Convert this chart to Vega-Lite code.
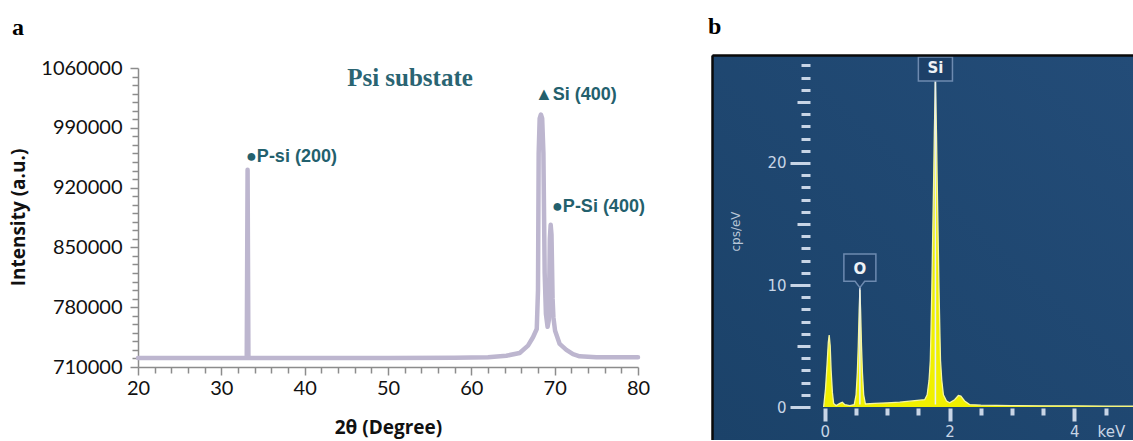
{
  "$schema": "https://vega.github.io/schema/vega-lite/v6.json",
  "background": "white",
  "padding": {"left": 9, "top": 15, "right": 0, "bottom": 0},
  "autosize": {"type": "pad"},
  "bounds": "flush",
  "align": "none",
  "spacing": 74,
  "config": {"view": {"stroke": null}, "axis": {"grid": false}},
  "datasets": {
    "xrd": [
      {"two_theta": 20, "intensity": 720500},
      {"two_theta": 30, "intensity": 720500},
      {"two_theta": 33.05, "intensity": 720500},
      {"two_theta": 33.15, "intensity": 941000},
      {"two_theta": 33.25, "intensity": 720500},
      {"two_theta": 40, "intensity": 720500},
      {"two_theta": 50, "intensity": 720500},
      {"two_theta": 58, "intensity": 720800},
      {"two_theta": 62, "intensity": 721500},
      {"two_theta": 64.2, "intensity": 723200},
      {"two_theta": 65.8, "intensity": 726400},
      {"two_theta": 66.8, "intensity": 735000},
      {"two_theta": 67.4, "intensity": 744800},
      {"two_theta": 67.85, "intensity": 754500},
      {"two_theta": 68.0, "intensity": 800000},
      {"two_theta": 68.08, "intensity": 960000},
      {"two_theta": 68.2, "intensity": 1001000},
      {"two_theta": 68.35, "intensity": 1005500},
      {"two_theta": 68.5, "intensity": 1001000},
      {"two_theta": 68.65, "intensity": 960000},
      {"two_theta": 68.8, "intensity": 820000},
      {"two_theta": 68.95, "intensity": 772000},
      {"two_theta": 69.15, "intensity": 757000},
      {"two_theta": 69.3, "intensity": 765000},
      {"two_theta": 69.42, "intensity": 860000},
      {"two_theta": 69.52, "intensity": 876500},
      {"two_theta": 69.62, "intensity": 865000},
      {"two_theta": 69.75, "intensity": 790000},
      {"two_theta": 69.85, "intensity": 768000},
      {"two_theta": 70.05, "intensity": 752500},
      {"two_theta": 70.6, "intensity": 737000},
      {"two_theta": 71.4, "intensity": 730000},
      {"two_theta": 72.2, "intensity": 725000},
      {"two_theta": 73, "intensity": 722500},
      {"two_theta": 75, "intensity": 721300},
      {"two_theta": 80, "intensity": 721300}
    ],
    "xrd_labels": [
      {"two_theta": 32.96, "intensity": 955800, "label": "●P-si (200)"},
      {"two_theta": 67.64, "intensity": 1028000, "label": "▲Si (400)"},
      {"two_theta": 69.68, "intensity": 896900, "label": "●P-Si (400)"}
    ],
    "xrd_title": [
      {"two_theta": 52.64, "intensity": 1038900, "label": "Psi substate"}
    ],
    "spectrum": [
      {"keV": -0.02, "cps": 0},
      {"keV": 0.01, "cps": 1.5},
      {"keV": 0.035, "cps": 3.5},
      {"keV": 0.055, "cps": 5.3},
      {"keV": 0.069, "cps": 5.9},
      {"keV": 0.085, "cps": 5.0},
      {"keV": 0.1, "cps": 3.0},
      {"keV": 0.12, "cps": 1.2},
      {"keV": 0.14, "cps": 0.3},
      {"keV": 0.18, "cps": 0.12},
      {"keV": 0.24, "cps": 0.3},
      {"keV": 0.28, "cps": 0.4},
      {"keV": 0.32, "cps": 0.2},
      {"keV": 0.4, "cps": 0.12},
      {"keV": 0.47, "cps": 0.2},
      {"keV": 0.5, "cps": 1.0},
      {"keV": 0.52, "cps": 2.8},
      {"keV": 0.535, "cps": 5.0},
      {"keV": 0.55, "cps": 8.0},
      {"keV": 0.561, "cps": 9.6},
      {"keV": 0.572, "cps": 8.0},
      {"keV": 0.587, "cps": 5.0},
      {"keV": 0.602, "cps": 2.8},
      {"keV": 0.622, "cps": 1.0},
      {"keV": 0.65, "cps": 0.25},
      {"keV": 0.8, "cps": 0.3},
      {"keV": 1.0, "cps": 0.35},
      {"keV": 1.2, "cps": 0.4},
      {"keV": 1.4, "cps": 0.5},
      {"keV": 1.6, "cps": 0.6},
      {"keV": 1.64, "cps": 1.0},
      {"keV": 1.67, "cps": 2.2},
      {"keV": 1.69, "cps": 3.8},
      {"keV": 1.7, "cps": 6},
      {"keV": 1.715, "cps": 9.8},
      {"keV": 1.735, "cps": 16},
      {"keV": 1.745, "cps": 19},
      {"keV": 1.755, "cps": 22.5},
      {"keV": 1.772, "cps": 27},
      {"keV": 1.789, "cps": 22.5},
      {"keV": 1.799, "cps": 19},
      {"keV": 1.809, "cps": 16},
      {"keV": 1.829, "cps": 9.8},
      {"keV": 1.844, "cps": 6},
      {"keV": 1.854, "cps": 3.8},
      {"keV": 1.874, "cps": 2.2},
      {"keV": 1.9, "cps": 1.0},
      {"keV": 1.95, "cps": 0.5},
      {"keV": 2.0, "cps": 0.35},
      {"keV": 2.08, "cps": 0.6},
      {"keV": 2.14, "cps": 0.95},
      {"keV": 2.18, "cps": 0.9},
      {"keV": 2.24, "cps": 0.5},
      {"keV": 2.32, "cps": 0.2},
      {"keV": 2.5, "cps": 0.15},
      {"keV": 3.0, "cps": 0.12},
      {"keV": 3.5, "cps": 0.1},
      {"keV": 4.0, "cps": 0.1},
      {"keV": 4.5, "cps": 0.08},
      {"keV": 4.94, "cps": 0.08}
    ],
    "markers": [
      {"element": "Si", "keV": 1.772, "box_cps": 27.7},
      {"element": "O", "keV": 0.561, "box_cps": 11.23}
    ]
  },
  "hconcat": [
    {
      "title": {"text": "a", "anchor": "start", "frame": "group", "dx": -126, "dy": 28, "offset": 24, "baseline": "alphabetic", "font": "Liberation Serif", "fontSize": 24, "fontWeight": "bold", "color": "#000000"},
      "width": 500,
      "height": 312,
      "encoding": {
        "x": {
          "field": "two_theta", "type": "quantitative",
          "scale": {"domain": [20, 80], "nice": false, "zero": false},
          "axis": {
            "values": [20,22,24,26,28,30,32,34,36,38,40,42,44,46,48,50,52,54,56,58,60,62,64,66,68,70,72,74,76,78,80],
            "labelExpr": "datum.value % 10 === 0 ? datum.label : ''",
            "labelFont": "Lato", "labelFontSize": 20, "labelColor": "#111111", "labelPadding": 3,
            "labelFlush": false, "labelOverlap": false, "labelBound": false,
            "tickSize": {"condition": {"test": "datum.value % 10 === 0", "value": 8}, "value": 6},
            "tickColor": "#8c8c8c", "tickWidth": 1.5, "domainColor": "#8c8c8c", "domainWidth": 1.5,
            "title": "2θ (Degree)", "titleFont": "Open Sans", "titleFontSize": 19, "titleFontWeight": "bold", "titleColor": "#111111",
            "titleY": 60, "titleBaseline": "middle"
          }
        },
        "y": {
          "field": "intensity", "type": "quantitative",
          "scale": {"domain": [710000, 1060000], "range": [312, 13], "nice": false, "zero": false},
          "axis": {
            "values": [710000,720000,730000,740000,750000,760000,770000,780000,790000,800000,810000,820000,830000,840000,850000,860000,870000,880000,890000,900000,910000,920000,930000,940000,950000,960000,970000,980000,990000,1000000,1010000,1020000,1030000,1040000,1050000,1060000],
            "format": "d",
            "labelExpr": "(datum.value - 710000) % 70000 === 0 ? datum.label : ''",
            "labelFont": "Lato", "labelFontSize": 20, "labelColor": "#111111", "labelPadding": 8,
            "labelOverlap": false, "labelBound": false,
            "tickSize": {"condition": {"test": "(datum.value - 710000) % 70000 === 0", "value": 8}, "value": 6},
            "tickColor": "#8c8c8c", "tickWidth": 1.5, "domainColor": "#8c8c8c", "domainWidth": 1.5,
            "title": "Intensity (a.u.)", "titleFont": "Open Sans", "titleFontSize": 19, "titleFontWeight": "bold", "titleColor": "#111111",
            "titleX": -120, "titleY": 162, "titleAlign": "center", "titleBaseline": "middle"
          }
        }
      },
      "layer": [
        {
          "data": {"name": "xrd"},
          "mark": {"type": "line", "color": "#bdb6cf", "strokeWidth": 4.5, "strokeCap": "round", "strokeJoin": "round"}
        },
        {
          "data": {"name": "xrd_labels"},
          "mark": {"type": "text", "align": "left", "baseline": "middle", "font": "Liberation Sans", "fontSize": 18, "fontWeight": "bold", "color": "#23606d"},
          "encoding": {"text": {"field": "label"}}
        },
        {
          "data": {"name": "xrd_title"},
          "mark": {"type": "text", "align": "center", "baseline": "alphabetic", "font": "Liberation Serif", "fontSize": 25, "fontWeight": "bold", "color": "#2a6472"},
          "encoding": {"text": {"field": "label"}}
        }
      ]
    },
    {
      "title": {"text": "b", "anchor": "start", "frame": "group", "dx": -4, "dy": 28, "offset": 24, "baseline": "alphabetic", "font": "Liberation Serif", "fontSize": 24, "fontWeight": "bold", "color": "#000000"},
      "width": 421,
      "height": 385,
      "resolve": {"axis": {"x": "independent", "y": "independent"}},
      "layer": [
        {
          "data": {"values": [{}]},
          "mark": {
            "type": "rect",
            "color": {"gradient": "linear", "x1": 0, "y1": 1, "x2": 1, "y2": 0,
              "stops": [{"offset": 0, "color": "#1b4269"}, {"offset": 1, "color": "#234c78"}]}
          },
          "encoding": {}
        },
        {
          "data": {"name": "spectrum"},
          "mark": {"type": "area", "color": "#f0f000", "opacity": 1, "line": {"color": "#f6f6a0", "strokeWidth": 1.3}},
          "encoding": {
            "x": {
              "field": "keV", "type": "quantitative",
              "scale": {"domain": [-1.81, 4.94], "nice": false, "zero": false},
              "axis": {
                "zindex": 2,
                "orient": "bottom", "offset": -32, "domain": false,
                "values": [0, 0.5, 1, 1.5, 2, 2.5, 3, 3.5, 4, 4.5],
                "labelExpr": "datum.value % 2 === 0 ? format(datum.value, 'd') : ''",
                "tickSize": {"condition": {"test": "datum.value % 2 === 0", "value": 13}, "value": 7},
                "tickWidth": 4, "tickColor": "#c8d5e6",
                "labelColor": "#c8d5e6", "labelFont": "DejaVu Sans", "labelFontSize": 15, "labelPadding": 3,
                "labelFlush": false, "labelOverlap": false, "labelBound": false,
                "title": "keV", "titleColor": "#c8d5e6", "titleFont": "DejaVu Sans", "titleFontSize": 15, "titleFontWeight": "normal",
                "titleX": 385, "titleY": 23, "titleAlign": "left", "titleBaseline": "middle"
              }
            },
            "y": {
              "field": "cps", "type": "quantitative",
              "scale": {"domain": [-2.7, 28.85], "nice": false},
              "axis": {
                "zindex": 2,
                "orient": "left", "offset": -98, "domain": false,
                "values": [0,1,2,3,4,5,6,7,8,9,10,11,12,13,14,15,16,17,18,19,20,21,22,23,24,25,26,27,28],
                "labelExpr": "datum.value % 10 === 0 ? datum.label : ''",
                "tickSize": {"condition": [{"test": "datum.value % 10 === 0", "value": 20}, {"test": "datum.value % 5 === 0", "value": 13}], "value": 9},
                "tickWidth": 3, "tickColor": "#c8d5e6",
                "labelColor": "#c8d5e6", "labelFont": "DejaVu Sans", "labelFontSize": 15, "labelPadding": 4,
                "labelOverlap": false, "labelBound": false,
                "title": "cps/eV", "titleColor": "#b8c6d8", "titleFont": "DejaVu Sans", "titleFontSize": 12, "titleFontWeight": "normal",
                "titleX": -75, "titleY": 176, "titleAngle": -90, "titleAlign": "center", "titleBaseline": "middle"
              }
            },
            "y2": {"datum": 0}
          }
        },
        {
          "data": {"name": "markers"},
          "mark": {"type": "rule", "color": "#e8eef6", "strokeWidth": 1.5},
          "encoding": {
            "x": {
              "field": "keV", "type": "quantitative",
              "axis": {"zindex": 2, "orient": "top", "domain": true, "domainColor": "#0a0a0a", "domainWidth": 2.5, "ticks": false, "labels": false, "title": null}
            },
            "y": {
              "field": "box_cps", "type": "quantitative",
              "axis": {"zindex": 2, "orient": "left", "domain": true, "domainColor": "#0a0a0a", "domainWidth": 2.5, "ticks": false, "labels": false, "title": null}
            },
            "y2": {"datum": 0.2}
          }
        },
        {
          "data": {"name": "markers"},
          "transform": [{"filter": "datum.element === 'Si'"}],
          "mark": {"type": "point", "shape": "M-1.42,-1H1.42V1H-1.42Z", "size": 576, "filled": true, "fill": "#1d4068", "stroke": "#6d8ab0", "strokeWidth": 1.5, "opacity": 1},
          "encoding": {
            "x": {"field": "keV", "type": "quantitative", "axis": null},
            "y": {"field": "box_cps", "type": "quantitative", "axis": null}
          }
        },
        {
          "data": {"name": "markers"},
          "transform": [{"filter": "datum.element === 'O'"}],
          "mark": {"type": "point", "shape": "M-1,-1H1V0.7H0.3L0,1.1L-0.3,0.7H-1Z", "size": 1024, "filled": true, "fill": "#1d4068", "stroke": "#6d8ab0", "strokeWidth": 1.5, "opacity": 1},
          "encoding": {
            "x": {"field": "keV", "type": "quantitative", "axis": null},
            "y": {"field": "box_cps", "type": "quantitative", "axis": null}
          }
        },
        {
          "data": {"name": "markers"},
          "mark": {"type": "text", "align": "center", "baseline": "middle", "dy": -1, "font": "DejaVu Sans", "fontSize": 15, "fontWeight": "bold", "color": "#eef2f6"},
          "encoding": {
            "x": {"field": "keV", "type": "quantitative", "axis": null},
            "y": {"field": "box_cps", "type": "quantitative", "axis": null},
            "text": {"field": "element"}
          }
        }
      ]
    }
  ]
}
